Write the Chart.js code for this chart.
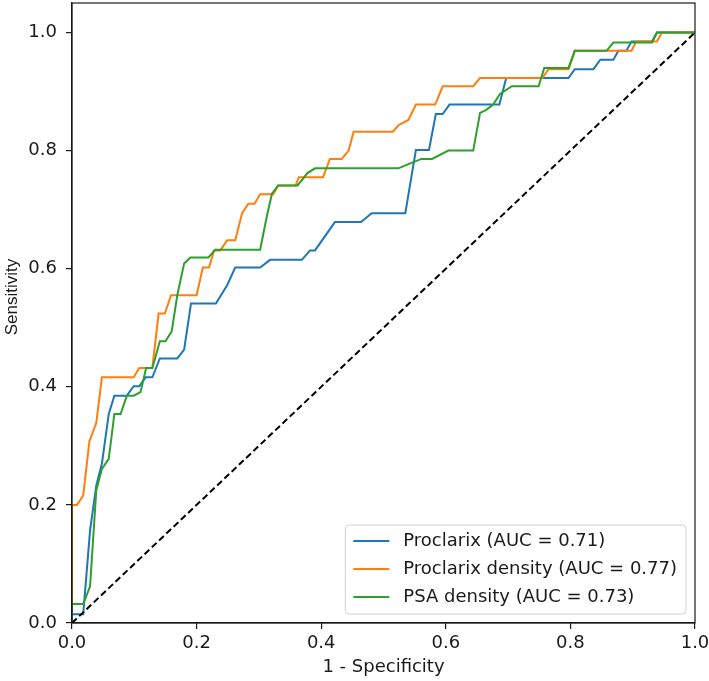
<!DOCTYPE html>
<html>
<head>
<meta charset="utf-8">
<script src="https://cdn.jsdelivr.net/npm/chart.js@4.4.1/dist/chart.umd.min.js"></script>
<style>
  html, body { margin: 0; padding: 0; background: #fff; }
  .grafico { width: 709px; height: 681px; }
</style>
</head>
<body>
<div class="grafico"><canvas id="graficoRoc"></canvas></div>
<script>
// curva ROC Proclarix
const proclarixFpr = [0, 0, 0.018, 0.029, 0.039, 0.048, 0.059, 0.068, 0.088, 0.099, 0.108, 0.118, 0.129, 0.141, 0.169, 0.180, 0.191, 0.231, 0.249, 0.262, 0.302, 0.318, 0.369, 0.382, 0.390, 0.422, 0.464, 0.481, 0.535, 0.552, 0.573, 0.584, 0.595, 0.606, 0.686, 0.697, 0.797, 0.807, 0.837, 0.848, 0.869, 0.877, 0.890, 0.898, 0.931, 0.939, 1.0];
const proclarixTpr = [0, 0.015, 0.015, 0.157, 0.233, 0.270, 0.354, 0.385, 0.385, 0.401, 0.401, 0.416, 0.416, 0.448, 0.448, 0.463, 0.541, 0.541, 0.572, 0.602, 0.602, 0.615, 0.615, 0.631, 0.631, 0.679, 0.679, 0.694, 0.694, 0.801, 0.801, 0.862, 0.862, 0.878, 0.878, 0.923, 0.923, 0.938, 0.938, 0.954, 0.954, 0.969, 0.969, 0.985, 0.985, 1.0, 1.0];

// curva ROC Proclarix density
const densidadeFpr = [0, 0, 0.008, 0.018, 0.028, 0.039, 0.048, 0.099, 0.108, 0.129, 0.139, 0.149, 0.159, 0.200, 0.210, 0.220, 0.228, 0.238, 0.249, 0.262, 0.273, 0.283, 0.293, 0.302, 0.323, 0.331, 0.359, 0.364, 0.403, 0.414, 0.433, 0.444, 0.452, 0.515, 0.524, 0.540, 0.552, 0.583, 0.595, 0.644, 0.655, 0.755, 0.765, 0.797, 0.807, 0.898, 0.906, 0.939, 0.947, 1.0];
const densidadeTpr = [0, 0.200, 0.200, 0.216, 0.308, 0.339, 0.416, 0.416, 0.432, 0.432, 0.524, 0.524, 0.555, 0.555, 0.602, 0.602, 0.631, 0.631, 0.648, 0.648, 0.694, 0.710, 0.710, 0.726, 0.726, 0.741, 0.741, 0.755, 0.755, 0.786, 0.786, 0.800, 0.832, 0.832, 0.843, 0.852, 0.878, 0.878, 0.909, 0.909, 0.923, 0.923, 0.938, 0.938, 0.969, 0.969, 0.985, 0.985, 1.0, 1.0];

// curva ROC PSA density
const psaFpr = [0, 0, 0.018, 0.029, 0.039, 0.048, 0.059, 0.068, 0.078, 0.088, 0.099, 0.110, 0.119, 0.129, 0.141, 0.150, 0.160, 0.169, 0.180, 0.190, 0.219, 0.230, 0.302, 0.313, 0.321, 0.331, 0.362, 0.378, 0.390, 0.524, 0.540, 0.561, 0.578, 0.604, 0.644, 0.655, 0.665, 0.676, 0.687, 0.706, 0.749, 0.758, 0.797, 0.807, 0.858, 0.869, 0.931, 0.939, 1.0];
const psaTpr = [0, 0.032, 0.032, 0.062, 0.225, 0.261, 0.278, 0.354, 0.354, 0.385, 0.385, 0.391, 0.432, 0.432, 0.477, 0.477, 0.494, 0.555, 0.609, 0.619, 0.619, 0.632, 0.632, 0.690, 0.727, 0.741, 0.741, 0.762, 0.770, 0.770, 0.777, 0.786, 0.786, 0.800, 0.800, 0.864, 0.869, 0.878, 0.896, 0.909, 0.909, 0.940, 0.940, 0.969, 0.969, 0.983, 0.983, 1.0, 1.0];

// linha de referencia (acaso)
const acasoX = [0, 1];
const acasoY = [0, 1];

const legendas = ['Proclarix (AUC = 0.71)', 'Proclarix density (AUC = 0.77)', 'PSA density (AUC = 0.73)'];
const cores = ['#1f77b4', '#ff7f0e', '#2ca02c'];
const ticksEixo = [0, 0.2, 0.4, 0.6, 0.8, 1.0];

function pontos(xs, ys) {
  return xs.map((x, i) => ({ x: x, y: ys[i] }));
}

const fonte = { family: 'DejaVu Sans', size: 18 };
const corTexto = '#1a1a1a';

const dataRoc = {
  datasets: [
    { label: legendas[0], data: pontos(proclarixFpr, proclarixTpr), borderColor: cores[0], order: 3 },
    { label: legendas[1], data: pontos(densidadeFpr, densidadeTpr), borderColor: cores[1], order: 2 },
    { label: legendas[2], data: pontos(psaFpr, psaTpr), borderColor: cores[2], order: 1 },
    { label: 'acaso', data: pontos(acasoX, acasoY), borderColor: '#000', borderDash: [6.5, 3.5], order: 0 },
  ]
};

// moldura, titulo do eixo y e legenda dentro do grafico
const extras = {
  id: 'extras',
  afterDraw(chart) {
    const { ctx, chartArea: a } = chart;
    ctx.save();
    ctx.strokeStyle = corTexto;
    ctx.lineWidth = 1.2;
    ctx.strokeRect(a.left, a.top, a.right - a.left, a.bottom - a.top);

    // Sensitivity (fonte mais estreita)
    ctx.translate(12.5, 297);
    ctx.rotate(-Math.PI / 2);
    ctx.font = '17px "Liberation Sans"';
    ctx.fillStyle = corTexto;
    ctx.textAlign = 'center';
    ctx.textBaseline = 'middle';
    ctx.fillText('Sensitivity', 0, 0);
    ctx.restore();

    // legenda
    ctx.save();
    ctx.font = '18px "DejaVu Sans"';
    const maxW = Math.max(...legendas.map(t => ctx.measureText(t).width));
    const dir = a.right - 9, baixo = a.bottom - 9;
    const textoX = dir - 9 - maxW;
    const esq = textoX - 14 - 36 - 8;
    const topo = baixo - 89;
    ctx.beginPath();
    ctx.roundRect(esq, topo, dir - esq, baixo - topo, 4);
    ctx.fillStyle = 'rgba(255,255,255,0.8)';
    ctx.fill();
    ctx.strokeStyle = '#d0d0d0';
    ctx.lineWidth = 1;
    ctx.stroke();
    legendas.forEach((t, i) => {
      const y = topo + 16 + i * 28;
      ctx.strokeStyle = cores[i];
      ctx.lineWidth = 2;
      ctx.beginPath();
      ctx.moveTo(esq + 8, y);
      ctx.lineTo(esq + 44, y);
      ctx.stroke();
      ctx.fillStyle = corTexto;
      ctx.textBaseline = 'middle';
      ctx.fillText(t, textoX, y);
    });
    ctx.restore();
  }
};

const configRoc = {
  type: 'scatter',
  data: dataRoc,
  options: {
    responsive: true,
    maintainAspectRatio: false,
    animation: false,
    devicePixelRatio: 1,
    showLine: true,
    elements: {
      point: { radius: 0, hoverRadius: 0 },
      line: { borderWidth: 2, tension: 0, fill: false }
    },
    layout: { padding: { top: 3, right: 14, left: 0, bottom: 0 } },
    plugins: { legend: { display: false }, tooltip: { enabled: false } },
    scales: {
      x: {
        type: 'linear', min: 0, max: 1,
        afterBuildTicks: eixo => { eixo.ticks = ticksEixo.map(v => ({ value: v })); },
        afterFit: eixo => { eixo.height = 58; eixo.paddingLeft = 0; eixo.paddingRight = 0; },
        ticks: { callback: v => v.toFixed(1), font: fonte, color: corTexto, padding: 4, maxRotation: 0, autoSkip: false },
        grid: { display: true, drawOnChartArea: false, drawTicks: true, tickLength: 6, color: corTexto, lineWidth: 1.2 },
        border: { display: true, color: corTexto, width: 1.2 },
        title: { display: true, text: '1 - Specificity', font: fonte, color: corTexto, padding: { top: 0, bottom: 3 } }
      },
      y: {
        type: 'linear', min: 0, max: 1.05,
        afterBuildTicks: eixo => { eixo.ticks = ticksEixo.map(v => ({ value: v })); },
        afterFit: eixo => { eixo.width = 72; eixo.paddingTop = 0; eixo.paddingBottom = 0; },
        ticks: { callback: v => v.toFixed(1), font: fonte, color: corTexto, padding: 9, autoSkip: false },
        grid: { display: true, drawOnChartArea: false, drawTicks: true, tickLength: 6, color: corTexto, lineWidth: 1.2 },
        border: { display: true, color: corTexto, width: 1.2 }
      }
    }
  },
  plugins: [extras]
};

const graficoRoc = new Chart(document.getElementById('graficoRoc'), configRoc);
</script>
</body>
</html>
